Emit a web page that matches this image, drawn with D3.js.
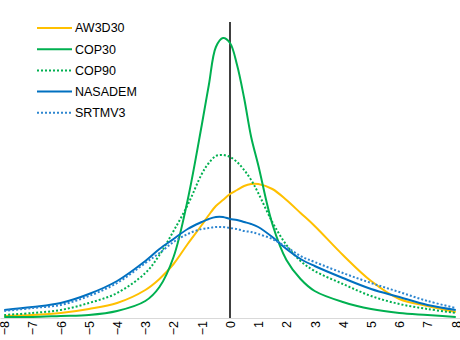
<!DOCTYPE html>
<html>
<head>
<meta charset="utf-8">
<script src="https://cdn.jsdelivr.net/npm/d3@7"></script>
<style>
  body { margin: 0; background: #fff; }
  svg { display: block; }
</style>
</head>
<body>
<script>
var width = 460, height = 340;
var axisY = 318;

// error values along x
var xValues = [-8, -7, -6, -5, -4, -3, -2.5, -2, -1.5, -1, -0.75, -0.5, -0.25, 0,
  0.25, 0.5, 0.75, 1, 1.5, 2, 2.5, 3, 4, 5, 6, 7, 8];
var tickLabels = [-8, -7, -6, -5, -4, -3, -2, -1, 0, 1, 2, 3, 4, 5, 6, 7, 8];

// frequency (%) per dataset
var aw3d30 = [0.10, 0.15, 0.25, 0.45, 0.75, 1.40, 1.95, 2.70, 3.70, 4.65, 5.15, 5.60, 5.90, 6.20,
  6.40, 6.60, 6.70, 6.70, 6.45, 5.90, 5.25, 4.60, 3.15, 1.85, 0.95, 0.60, 0.30];
var cop30 = [0.05, 0.05, 0.10, 0.15, 0.35, 0.85, 1.55, 3.05, 5.90, 9.65, 11.65, 13.55, 14.00, 13.75,
  12.65, 11.00, 9.05, 7.65, 4.70, 2.90, 1.95, 1.35, 0.80, 0.45, 0.25, 0.15, 0.05];
var cop90 = [0.15, 0.25, 0.40, 0.75, 1.25, 2.25, 3.15, 4.35, 5.65, 7.20, 7.75, 8.10, 8.15, 8.05,
  7.80, 7.40, 6.90, 6.25, 4.80, 3.65, 2.85, 2.35, 1.70, 1.10, 0.70, 0.45, 0.25];
var nasadem = [0.40, 0.55, 0.75, 1.20, 1.85, 2.85, 3.45, 3.95, 4.45, 4.80, 4.95, 5.05, 5.05, 4.95,
  4.90, 4.80, 4.70, 4.55, 4.05, 3.45, 2.95, 2.60, 2.00, 1.45, 1.05, 0.65, 0.40];
var srtmv3 = [0.35, 0.50, 0.65, 1.10, 1.75, 2.75, 3.25, 3.80, 4.20, 4.45, 4.50, 4.55, 4.55, 4.50,
  4.45, 4.35, 4.30, 4.20, 3.95, 3.55, 3.10, 2.80, 2.25, 1.75, 1.30, 0.85, 0.50];

var series = [
  { name: 'AW3D30', values: aw3d30, color: '#FFC000', dash: null },
  { name: 'COP30', values: cop30, color: '#00B050', dash: null },
  { name: 'COP90', values: cop90, color: '#00B050', dash: '2,2' },
  { name: 'NASADEM', values: nasadem, color: '#0070C0', dash: null },
  { name: 'SRTMV3', values: srtmv3, color: '#2E86D0', dash: '2,2' }
];

var svg = d3.select('body')
  .append('svg')
  .attr('width', width)
  .attr('height', height);

var x = d3.scaleLinear()
  .domain([-8.15, 8.15])
  .range([0, width]);

var y = d3.scaleLinear()
  .domain([0, 15])
  .range([axisY, 18]);

// bottom axis
var axis = d3.axisBottom(x)
  .tickValues(tickLabels)
  .tickSize(0)
  .tickFormat(d3.format('d'));

var axisGroup = svg.append('g')
  .attr('transform', 'translate(0,' + axisY + ')')
  .call(axis);

axisGroup.select('.domain')
  .attr('stroke', '#d9d9d9')
  .attr('stroke-width', 1);

axisGroup.selectAll('.tick text')
  .attr('font-family', 'Liberation Sans, Arial, sans-serif')
  .attr('font-size', 12.5)
  .attr('fill', '#000')
  .style('text-anchor', 'end')
  .attr('x', -3)
  .attr('y', 0)
  .attr('dy', '0.35em')
  .attr('transform', 'rotate(-90)');

// vertical zero line
svg.append('line')
  .attr('x1', x(0)).attr('x2', x(0))
  .attr('y1', 22).attr('y2', axisY)
  .attr('stroke', '#000')
  .attr('stroke-width', 1.5);

var line = d3.line()
  .x(function(d, i) { return x(xValues[i]); })
  .y(function(d) { return y(d); })
  .curve(d3.curveCatmullRom.alpha(0.5));

svg.selectAll('path.series')
  .data(series)
  .enter()
  .append('path')
  .attr('class', 'series')
  .attr('d', function(s) { return line(s.values); })
  .attr('fill', 'none')
  .attr('stroke', function(s) { return s.color; })
  .attr('stroke-width', 2)
  .attr('stroke-dasharray', function(s) { return s.dash; });

// legend
var legend = svg.append('g')
  .attr('transform', 'translate(37,28)');

var items = legend.selectAll('g')
  .data(series)
  .enter()
  .append('g')
  .attr('transform', function(d, i) { return 'translate(0,' + (i * 21.2) + ')'; });

items.append('line')
  .attr('x1', 0).attr('x2', 35)
  .attr('y1', 0).attr('y2', 0)
  .attr('stroke', function(d) { return d.color; })
  .attr('stroke-width', 2)
  .attr('stroke-dasharray', function(d) { return d.dash; });

items.append('text')
  .attr('x', 38)
  .attr('y', 0)
  .attr('dy', '0.35em')
  .attr('font-family', 'Liberation Sans, Arial, sans-serif')
  .attr('font-size', 12.5)
  .attr('fill', '#000')
  .text(function(d) { return d.name; });
</script>
</body>
</html>
